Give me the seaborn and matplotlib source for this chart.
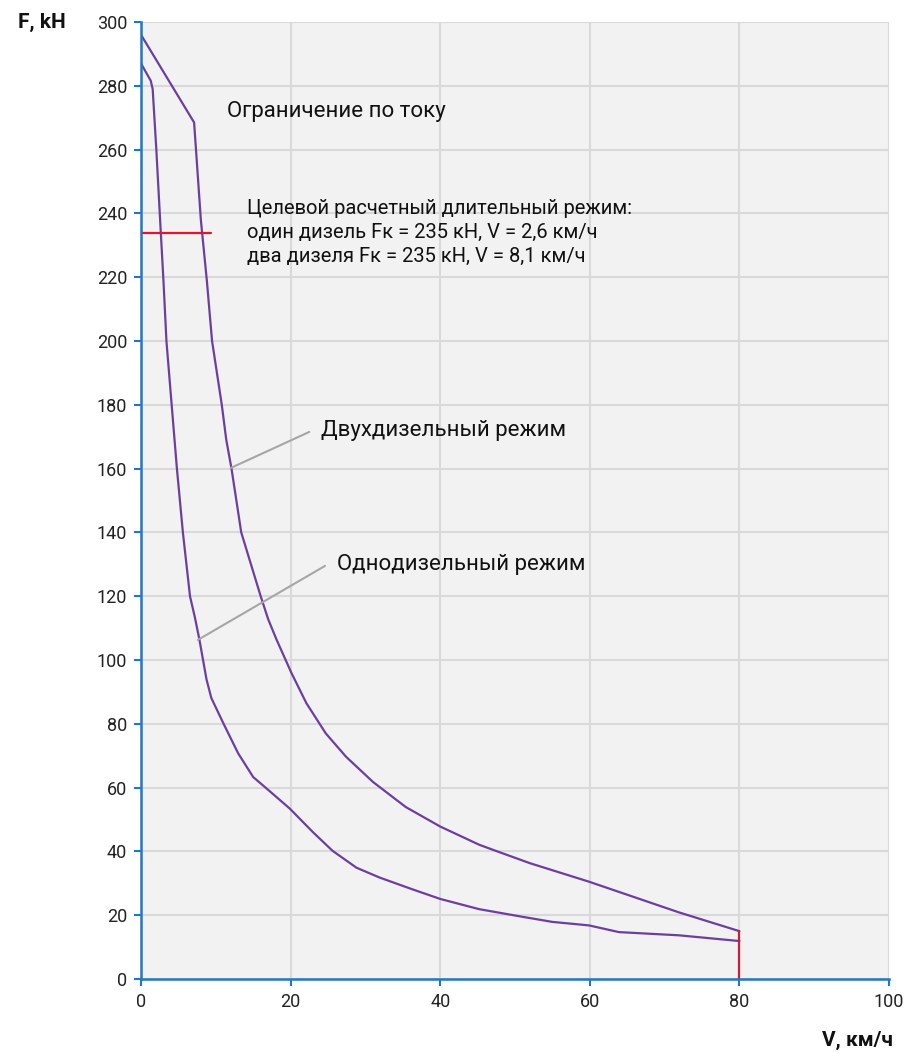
import pandas as pd
import matplotlib
matplotlib.use("Agg")
import matplotlib.pyplot as plt
import seaborn as sns

# -----------------------------
# Data
# -----------------------------
# two-diesel traction curve
v_two = [0, 7.1, 8.0, 8.8, 9.5, 10.8, 11.4, 12.1, 13.4, 16.0, 17.0, 18.1, 20.1, 22.1, 24.7,
         27.4, 31.0, 35.4, 40, 45.2, 47.4, 52, 59.9, 71.9, 80]
f_two = [296, 268.5, 238, 219, 200, 180, 169, 160, 140, 120, 112.8, 106.5, 96, 86.5, 77,
         69.7, 61.8, 53.9, 47.8, 42.1, 40.2, 36.3, 30.5, 20.9, 15]

# one-diesel traction curve
v_one = [0, 1.3, 1.56, 2.05, 2.6, 3.0, 3.4, 4.1, 4.8, 5.6, 6.55, 7.2, 7.8, 8.76, 9.4, 11.0,
         13.0, 15.0, 16.8, 19.9, 23.0, 25.6, 28.8, 31.9, 36.3, 40, 45.2, 50.5, 55,
         59.9, 63.9, 71.9, 80]
f_one = [287, 281.6, 279, 260, 236, 219, 200, 180, 160, 140, 120, 113.4, 106.5, 93.9, 88.1, 80.2,
         70.7, 63.3, 59.7, 53.4, 46, 40.2, 34.9, 31.8, 28.1, 25.1, 21.9, 19.7, 17.9,
         16.8, 14.7, 13.7, 11.9]

# target continuous mode line and speed limit line
target_v = [0, 9.3]
target_f = [234, 234]
limit_v = [80, 80]
limit_f = [0, 15]

x_ticks = [0, 20, 40, 60, 80, 100]
y_ticks = list(range(0, 301, 20))

df = pd.concat([
    pd.DataFrame({'v': v_two, 'F': f_two, 'mode': 'two'}),
    pd.DataFrame({'v': v_one, 'F': f_one, 'mode': 'one'}),
])

# -----------------------------
# Style
# -----------------------------
sns.set_style("whitegrid", {
    'axes.facecolor': '#f2f2f2',
    'grid.color': '#d9d9d9',
    'axes.edgecolor': '#1f78c1',
})
plt.rcParams['font.family'] = ['Roboto', 'DejaVu Sans']

purple = '#6b3fa0'
blue = '#1f78c1'

fig = plt.figure(figsize=(9.06, 10.53), dpi=100)
ax = fig.add_axes([141 / 906, 1 - 979 / 1053, (889 - 141) / 906, (979 - 22) / 1053])

sns.lineplot(data=df, x='v', y='F', units='mode', estimator=None, sort=False,
             color=purple, linewidth=1.6, ax=ax)
sns.lineplot(x=target_v, y=target_f, estimator=None, sort=False,
             color='#e3142d', linewidth=1.6, ax=ax)
sns.lineplot(x=limit_v, y=limit_f, estimator=None, sort=False,
             color='#c81e3c', linewidth=1.6, ax=ax)

ax.set_xlim(0, 100)
ax.set_ylim(0, 300)
ax.set_xticks(x_ticks)
ax.set_yticks(y_ticks)
ax.set_xlabel('')
ax.set_ylabel('')
ax.grid(True, color='#d9d9d9', linewidth=1.5)
ax.tick_params(axis='both', labelsize=13, colors=blue, labelcolor='#222222',
               length=5, width=1.5, direction='out', pad=5,
               bottom=True, left=True)
for side in ['top', 'right']:
    ax.spines[side].set_visible(False)
for side in ['left', 'bottom']:
    ax.spines[side].set_color(blue)
    ax.spines[side].set_linewidth(1.8)

# -----------------------------
# Annotations
# -----------------------------
ax.text(11.5, 271.8, 'Ограничение по току', fontsize=16, va='center', color='#111111')
ax.text(14.2, 234, 'Целевой расчетный длительный режим:\n'
                   'один дизель Fк = 235 кН, V = 2,6 км/ч\n'
                   'два дизеля Fк = 235 кН, V = 8,1 км/ч',
        fontsize=14.5, va='center', linespacing=1.35, color='#111111')

ax.plot([12.0, 22.5], [160.2, 171.5], color='#a6a6a6', linewidth=1.5)
ax.text(24.1, 171.8, 'Двухдизельный режим', fontsize=16, va='center', color='#111111')
ax.plot([7.6, 24.6], [106.3, 129.5], color='#a6a6a6', linewidth=1.5)
ax.text(26.2, 129.8, 'Однодизельный режим', fontsize=16, va='center', color='#111111')

fig.text(18 / 906, 1 - 22 / 1053, 'F, kH', fontsize=15, fontweight='bold',
         va='center', ha='left', color='#111111')
fig.text(893 / 906, 1 - 1040 / 1053, 'V, км/ч', fontsize=15, fontweight='bold',
         va='center', ha='right', color='#111111')

fig.savefig('out.png', dpi=100)
